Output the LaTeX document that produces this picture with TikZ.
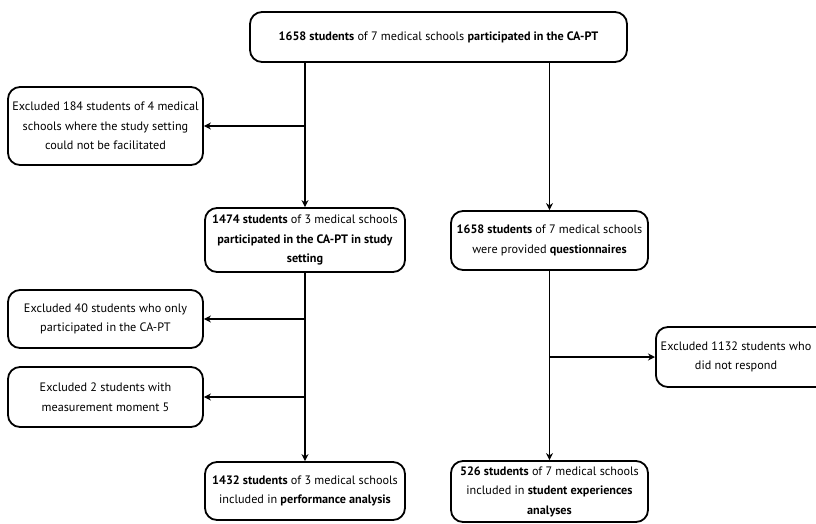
\documentclass[tikz,border=0pt]{standalone}
\usepackage{fontspec}
\setmainfont{PT Sans}
\usetikzlibrary{arrows.meta}
\begin{document}
\begin{tikzpicture}[x=1pt,y=-1pt,
  flowbox/.style={draw, line width=1.8pt, rounded corners=12pt, align=center,
    font=\fontsize{12.2}{19.5}\selectfont, inner sep=0pt},
  flow/.style={line width=1.8pt, -{Stealth[length=7pt,width=7pt]}}]
\useasboundingbox (0,0) rectangle (816,523);
\clip (0,0) rectangle (816,523);
% boxes
\node[flowbox, minimum width=377pt, minimum height=50pt] (top) at (438.5,37)
  {\textbf{1658 students} of 7 medical schools \textbf{participated in the CA-PT}};
\node[flowbox, minimum width=195pt, minimum height=78pt] (ex1) at (105.5,126)
  {Excluded 184 students of 4 medical\\schools where the study setting\\could not be facilitated};
\node[flowbox, minimum width=200pt, minimum height=64pt] (study) at (305,240)
  {\textbf{1474 students} of 3 medical schools\\\textbf{participated in the CA-PT in study}\\\textbf{setting}};
\node[flowbox, minimum width=197pt, minimum height=59pt] (quest) at (549.5,240.5)
  {\textbf{1658 students} of 7 medical schools\\were provided \textbf{questionnaires}};
\node[flowbox, minimum width=195pt, minimum height=58pt] (ex40) at (105.5,319)
  {Excluded 40 students who only\\participated in the CA-PT};
\node[flowbox, minimum width=195pt, minimum height=60pt] (ex2) at (105.5,397)
  {Excluded 2 students with\\measurement moment 5};
% this box runs past the right edge; its text is set inside the visible part
\node[flowbox, minimum width=175pt, minimum height=60pt, anchor=west] (ex1132) at (655,357) {};
\node[font=\fontsize{12.2}{19.5}\selectfont, align=center, inner sep=0pt] (ex1132t) at (736,357)
  {Excluded 1132 students who\\did not respond};
\node[flowbox, minimum width=200pt, minimum height=58pt] (perf) at (305,491)
  {\textbf{1432 students} of 3 medical schools\\included in \textbf{performance analysis}};
\node[flowbox, minimum width=197pt, minimum height=61pt] (exper) at (549.5,491.5)
  {\textbf{526 students} of 7 medical schools\\included in \textbf{student experiences}\\\textbf{analyses}};
% connectors
\coordinate (j1) at (study.north |- ex1.east);
\coordinate (j40) at (study.north |- ex40.east);
\coordinate (j2) at (study.north |- ex2.east);
\coordinate (j1132) at (quest.south |- ex1132.west);
\draw[flow] (top.south -| study.north) -- (study.north);
\draw[flow] (top.south -| quest.north) -- (quest.north);
\draw[flow] (j1) -- (ex1.east);
\draw[flow] (study.south) -- (perf.north);
\draw[flow] (j40) -- (ex40.east);
\draw[flow] (j2) -- (ex2.east);
\draw[flow] (quest.south) -- (exper.north);
\draw[flow] (j1132) -- (ex1132.west);
\end{tikzpicture}
\end{document}
